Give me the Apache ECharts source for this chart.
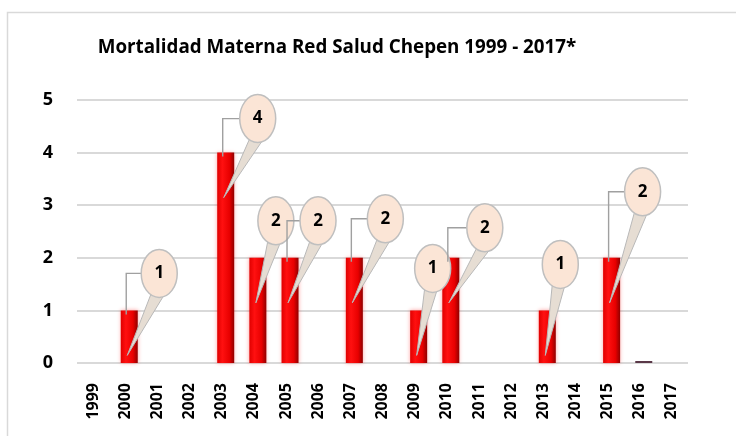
<!DOCTYPE html>
<html>
<head>
<meta charset="utf-8">
<script src="https://cdn.jsdelivr.net/npm/echarts@6/dist/echarts.min.js"></script>
<style>
  html, body { margin: 0; padding: 0; background: #fff; }
  #chart { width: 736px; height: 436px; }
</style>
</head>
<body>
<div id="chart"></div>
<script>
// Mortalidad materna

const years = ["1999", "2000", "2001", "2002", "2003", "2004", "2005", "2006", "2007",
  "2008", "2009", "2010", "2011", "2012", "2013", "2014", "2015", "2016", "2017"];
const deaths = [null, 1, null, null, 4, 2, 2, null, 2, null, 1, 2, null, null, 1, null, 2, 0, null];
const yTicks = [0, 1, 2, 3, 4, 5];

// where each callout bubble sits, relative to the bar top (px)
const calloutOffset = {
  "2000": [30, -37], "2003": [32, -34], "2004": [18, -37], "2005": [28, -37],
  "2007": [31, -39], "2009": [14, -42], "2010": [34, -30], "2013": [13, -46],
  "2015": [31, -66],
};

const FONT = "Open Sans";
const BAR_W = 17;
const BAR_SHIFT = 4; // bars sit a little right of the tick, like the 3D original

function renderCallout(params, api) {
  const idx = api.value(0);
  const v = api.value(1);
  const top = api.coord([idx, v]);
  top[0] += BAR_SHIFT;
  const off = calloutOffset[years[idx]] || [28, -37];
  const rx = 18, ry = 24;
  const cx = top[0] + off[0];
  const cy = top[1] + off[1];
  const lx = top[0] - 3;
  const tip = [top[0] - 2, top[1] + 45];
  const children = [];
  if (cx - rx > lx + 4) {
    children.push({
      type: "polyline",
      shape: { points: [[lx, top[1] + 4], [lx, cy], [cx - rx, cy]] },
      style: { stroke: "#a0a0a0", lineWidth: 1.4, fill: null },
    });
  }
  children.push({
    type: "polygon",
    shape: { points: [[cx - 8, cy + ry - 4], [cx + 4, cy + ry - 1], tip] },
    style: { fill: "#e6ddd3", stroke: "#b8b8b8", lineWidth: 1 },
  });
  children.push({
    type: "ellipse",
    shape: { cx: cx, cy: cy, rx: rx, ry: ry },
    style: { fill: "#fbe5d6", stroke: "#bfbfbf", lineWidth: 1.5 },
  });
  children.push({
    type: "text",
    style: {
      x: cx, y: cy, text: String(v), fill: "#000",
      font: "bold 17px '" + FONT + "'", align: "center", verticalAlign: "middle",
    },
  });
  return { type: "group", children: children };
}

const calloutData = [];
deaths.forEach((d, i) => {
  if (d) calloutData.push([i, d]);
});

const myChart = echarts.init(document.getElementById("chart"));
const option = {
  animation: false,
  graphic: [
    {
      type: "rect",
      shape: { x: 7.5, y: 12.5, width: 740, height: 440 },
      style: { fill: null, stroke: "#d9d9d9", lineWidth: 1.5 },
      z: -1,
    },
    {
      type: "text",
      x: 337, y: 48,
      style: {
        text: "Mortalidad Materna Red Salud Chepen 1999 - 2017*",
        font: "bold 18.8px '" + FONT + "'", fill: "#000",
        align: "center", verticalAlign: "middle",
      },
    },
  ],
  grid: { left: 77, right: 48, top: 100, bottom: 73 },
  xAxis: {
    type: "category",
    data: years,
    axisLine: { show: false },
    axisTick: { show: false },
    axisLabel: {
      rotate: 90, margin: 20, interval: 0,
      color: "#000", fontFamily: FONT, fontWeight: "bold", fontSize: 16,
    },
  },
  yAxis: {
    type: "value",
    min: yTicks[0],
    max: yTicks[yTicks.length - 1],
    interval: 1,
    axisLabel: {
      margin: 24, color: "#000", fontFamily: FONT, fontWeight: "bold", fontSize: 18,
    },
    splitLine: { lineStyle: { color: "#d9d9d9", width: 2 } },
  },
  series: [
    {
      // empty spacer so the real bars land BAR_SHIFT px right of the tick
      type: "bar",
      data: years.map(() => null),
      barWidth: BAR_W,
      barGap: (2 * BAR_SHIFT / BAR_W - 1) * 100 + "%",
      silent: true,
    },
    {
      type: "bar",
      data: deaths.map((d) =>
        d === 0
          ? { value: d, itemStyle: { color: "#5a3848", shadowBlur: 0 } }
          : d
      ),
      barWidth: BAR_W,
      barMinHeight: 2,
      itemStyle: {
        color: {
          type: "linear", x: 0, y: 0, x2: 1, y2: 0,
          colorStops: [
            { offset: 0, color: "#e00000" },
            { offset: 0.3, color: "#ff1010" },
            { offset: 0.72, color: "#e80000" },
            { offset: 1, color: "#900000" },
          ],
        },
        shadowColor: "rgba(255, 0, 0, 0.35)",
        shadowBlur: 4,
      },
    },
    {
      type: "custom",
      renderItem: renderCallout,
      data: calloutData,
      z: 5,
      silent: true,
    },
  ],
};
myChart.setOption(option);
</script>
</body>
</html>
